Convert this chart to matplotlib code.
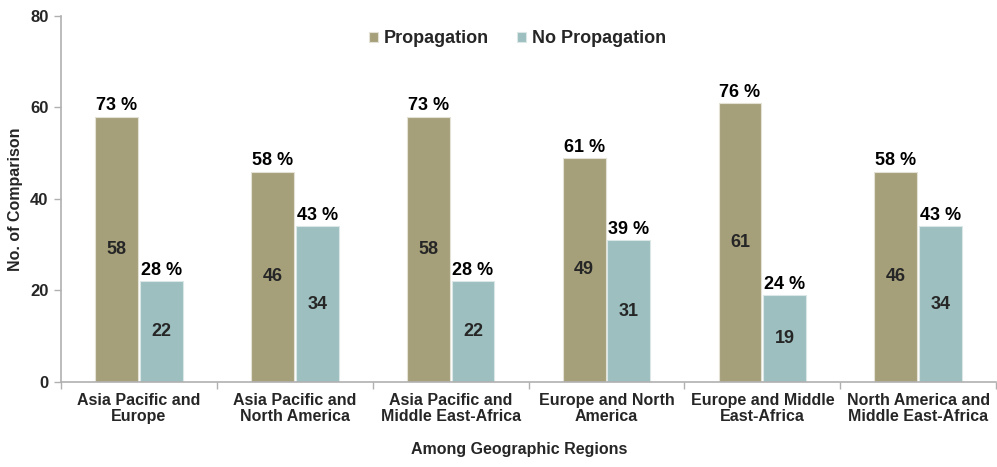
import matplotlib.pyplot as plt
import numpy as np

plt.rcParams['font.family'] = ['Liberation Sans', 'DejaVu Sans']
plt.rcParams['font.weight'] = 'bold'
plt.rcParams['axes.labelweight'] = 'bold'

# Данные
regions = ['Asia Pacific and\nEurope', 'Asia Pacific and\nNorth America',
           'Asia Pacific and\nMiddle East-Africa', 'Europe and North\nAmerica',
           'Europe and Middle\nEast-Africa', 'North America and\nMiddle East-Africa']
propagation = [58, 46, 58, 49, 61, 46]
no_propagation = [22, 34, 22, 31, 19, 34]
prop_pct = ['73 %', '58 %', '73 %', '61 %', '76 %', '58 %']
no_prop_pct = ['28 %', '43 %', '28 %', '39 %', '24 %', '43 %']

c_prop = '#a6a07a'
c_noprop = '#9dbfbf'
txt = '#262626'

fig = plt.figure(figsize=(9.97, 4.67), dpi=100)
ax = fig.add_axes([0.0612, 0.182, 0.938, 0.7838])

x = np.arange(len(regions))
w = 0.275
b1 = ax.bar(x - w / 2 - 0.006, propagation, w, color=c_prop, edgecolor='#e4e2d6', linewidth=0.8, label='Propagation')
b2 = ax.bar(x + w / 2 + 0.006, no_propagation, w, color=c_noprop, edgecolor='#dbe7e7', linewidth=0.8, label='No Propagation')

for bars, vals, pcts in [(b1, propagation, prop_pct), (b2, no_propagation, no_prop_pct)]:
    for bar, v, p in zip(bars, vals, pcts):
        cx = bar.get_x() + bar.get_width() / 2
        ax.text(cx, v / 2, str(v), ha='center', va='center', fontsize=13, color=txt)
        ax.text(cx, v + 0.5, p, ha='center', va='bottom', fontsize=13, color='black')

ax.set_xlim(-0.5, len(regions) - 0.5)
ax.set_ylim(0, 80)
ax.set_yticks([0, 20, 40, 60, 80])
ax.set_xticks(x)
ax.set_xticklabels(regions, fontsize=11.5, color=txt, linespacing=1.05)
ax.set_xticks(np.arange(len(regions) + 1) - 0.5, minor=True)
ax.tick_params(axis='x', which='major', length=0, pad=8)
ax.tick_params(axis='x', which='minor', length=5, color='#b0b0b0', width=1)
ax.tick_params(axis='y', length=5, color='#b0b0b0', width=1, labelsize=12, labelcolor=txt, pad=4)

for s in ['top', 'right']:
    ax.spines[s].set_visible(False)
for s in ['left', 'bottom']:
    ax.spines[s].set_color('#b0b0b0')
    ax.spines[s].set_linewidth(1.2)

ax.set_ylabel('No. of Comparison', fontsize=11.5, color=txt, labelpad=5)
ax.set_xlabel('Among Geographic Regions', fontsize=11.5, color=txt, labelpad=16)
ax.xaxis.set_label_coords(0.49, -0.165)

ax.legend(loc='upper center', bbox_to_anchor=(0.488, 1.005), ncol=2, frameon=False,
          fontsize=13, handlelength=0.5, handleheight=0.5, handletextpad=0.3,
          columnspacing=1.6, labelcolor=txt)

fig.savefig('out.png', dpi=100)
